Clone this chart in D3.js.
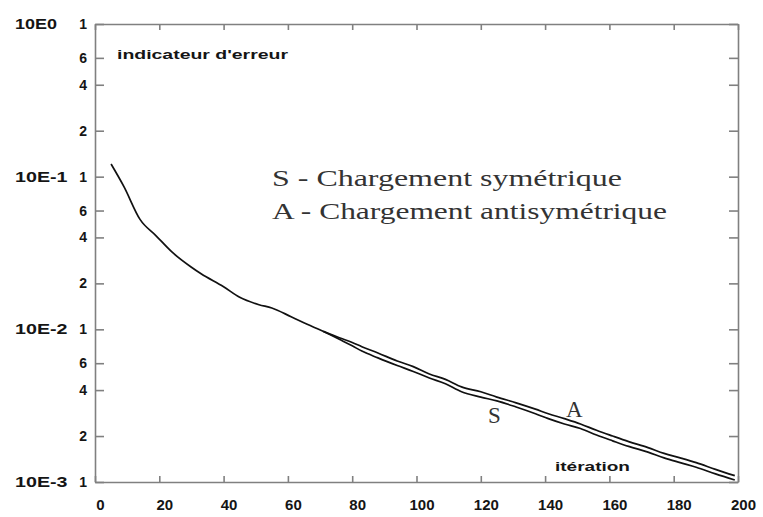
<!DOCTYPE html>
<html>
<head>
<meta charset="utf-8">
<script src="https://cdn.jsdelivr.net/npm/d3@7"></script>
<style>
  body { margin: 0; background: #fff; }
  svg { display: block; }
</style>
</head>
<body>
<script>
// values
const iterShared = [5, 9, 14, 19, 24, 30, 33, 40, 45, 51, 55, 61, 66, 71]
const valShared = [0.121, 0.086, 0.0525, 0.041, 0.032, 0.0255, 0.0231, 0.019, 0.0162, 0.0145, 0.0138, 0.0121, 0.0108, 0.0097]

const iterSplit = [76, 80, 83, 88, 94, 99, 104, 109, 114, 120, 125, 131, 137, 141, 146, 151, 156, 161, 166, 172, 177, 182, 187, 193, 199]
const valAnti = [0.0088, 0.0082, 0.0077, 0.0070, 0.0062, 0.0057, 0.0051, 0.0047, 0.0042, 0.0039, 0.0036, 0.0033, 0.0030, 0.0028, 0.0026, 0.0024, 0.00218, 0.0020, 0.00184, 0.00168, 0.00154, 0.00144, 0.00134, 0.00121, 0.0011]
const valSym = [0.0086, 0.0078, 0.0072, 0.0065, 0.0058, 0.0053, 0.0048, 0.0044, 0.0039, 0.0036, 0.0034, 0.0031, 0.0028, 0.0026, 0.0024, 0.00224, 0.00203, 0.00186, 0.00171, 0.00157, 0.00144, 0.00134, 0.00125, 0.00113, 0.00103]

const xTicks = [0, 20, 40, 60, 80, 100, 120, 140, 160, 180, 200]
const yTicks = [0.001, 0.002, 0.004, 0.006, 0.01, 0.02, 0.04, 0.06, 0.1, 0.2, 0.4, 0.6, 1]
const decadeLabels = [['10E0', 1], ['10E-1', 0.1], ['10E-2', 0.01], ['10E-3', 0.001]]

const width = 763
const height = 517
const axisColor = '#808080'

let svg = d3.select('body').append('svg')
  .attr('width', width)
  .attr('height', height)

let x = d3.scaleLinear().domain([0, 200]).range([95, 738])
let y = d3.scaleLog().domain([0.001, 1]).range([482, 24])

const leading = d => String(Math.round(d / Math.pow(10, Math.floor(Math.log10(d) + 1e-9))))

function styleAxis (g) {
  g.selectAll('path, line').attr('stroke', axisColor).attr('stroke-width', 1.6)
  g.selectAll('text')
    .attr('fill', '#151515')
    .style('font-family', '"Liberation Sans", Arial, sans-serif')
    .style('font-weight', 'bold')
}

svg.append('g')
  .attr('transform', `translate(${x(0)},0)`)
  .call(d3.axisLeft(y).tickValues(yTicks).tickSize(-9).tickSizeOuter(0).tickPadding(8).tickFormat(leading))
  .call(styleAxis)
  .call(g => g.selectAll('text').style('font-size', '14px'))

svg.append('g')
  .attr('transform', `translate(${x(200)},0)`)
  .call(d3.axisRight(y).tickValues(yTicks).tickSize(-9).tickSizeOuter(0).tickFormat(''))
  .call(styleAxis)

svg.append('g')
  .attr('transform', `translate(0,${y(1)})`)
  .call(d3.axisTop(x).tickValues(xTicks).tickSize(-6).tickSizeOuter(0).tickFormat(''))
  .call(styleAxis)

svg.append('g')
  .attr('transform', `translate(0,${y(0.001)})`)
  .call(d3.axisBottom(x).tickValues(xTicks).tickSize(-6).tickSizeOuter(0).tickPadding(17).tickFormat(d3.format('d')))
  .call(styleAxis)
  .call(g => g.selectAll('text').style('font-size', '15px').attr('dx', 5))

svg.append('g').selectAll('text')
  .data(decadeLabels)
  .enter().append('text')
  .attr('x', 15)
  .attr('y', d => y(d[1]) + 5)
  .attr('textLength', d => d[0].length * 10.5)
  .attr('lengthAdjust', 'spacingAndGlyphs')
  .style('font', 'bold 14px "Liberation Sans", Arial, sans-serif')
  .attr('fill', '#151515')
  .text(d => d[0])

// curves
let line = d3.line()
  .x(d => x(d[0]))
  .y(d => y(d[1]))
  .curve(d3.curveMonotoneX)

const shared = d3.zip(iterShared, valShared)
const lastShared = shared[shared.length - 1]
const anti = [lastShared].concat(d3.zip(iterSplit, valAnti))
const sym = [lastShared].concat(d3.zip(iterSplit, valSym))

;[shared, anti, sym].forEach(s => {
  svg.append('path')
    .datum(s)
    .attr('d', line)
    .attr('fill', 'none')
    .attr('stroke', '#111')
    .attr('stroke-width', 1.7)
})

// labels
const sansBold = 'bold 12px "Liberation Sans", Arial, sans-serif'
svg.append('text')
  .attr('x', 117).attr('y', 59)
  .attr('textLength', 171).attr('lengthAdjust', 'spacingAndGlyphs')
  .style('font', sansBold).attr('fill', '#151515')
  .text("indicateur d'erreur")

svg.append('text')
  .attr('x', 555).attr('y', 471)
  .attr('textLength', 75).attr('lengthAdjust', 'spacingAndGlyphs')
  .style('font', 'bold 13px "Liberation Sans", Arial, sans-serif').attr('fill', '#151515')
  .text('itération')

const serif = '"Liberation Serif", "Times New Roman", serif'
svg.append('text')
  .attr('x', 272).attr('y', 186)
  .attr('textLength', 350).attr('lengthAdjust', 'spacingAndGlyphs')
  .style('font-family', serif).style('font-size', '23px').attr('fill', '#333')
  .text('S - Chargement symétrique')

svg.append('text')
  .attr('x', 272).attr('y', 219)
  .attr('textLength', 395).attr('lengthAdjust', 'spacingAndGlyphs')
  .style('font-family', serif).style('font-size', '23px').attr('fill', '#333')
  .text('A - Chargement antisymétrique')

svg.append('text')
  .attr('x', 488).attr('y', 423)
  .style('font-family', serif).style('font-size', '23px').attr('fill', '#333')
  .text('S')

svg.append('text')
  .attr('x', 566).attr('y', 417)
  .style('font-family', serif).style('font-size', '23px').attr('fill', '#333')
  .text('A')
</script>
</body>
</html>
